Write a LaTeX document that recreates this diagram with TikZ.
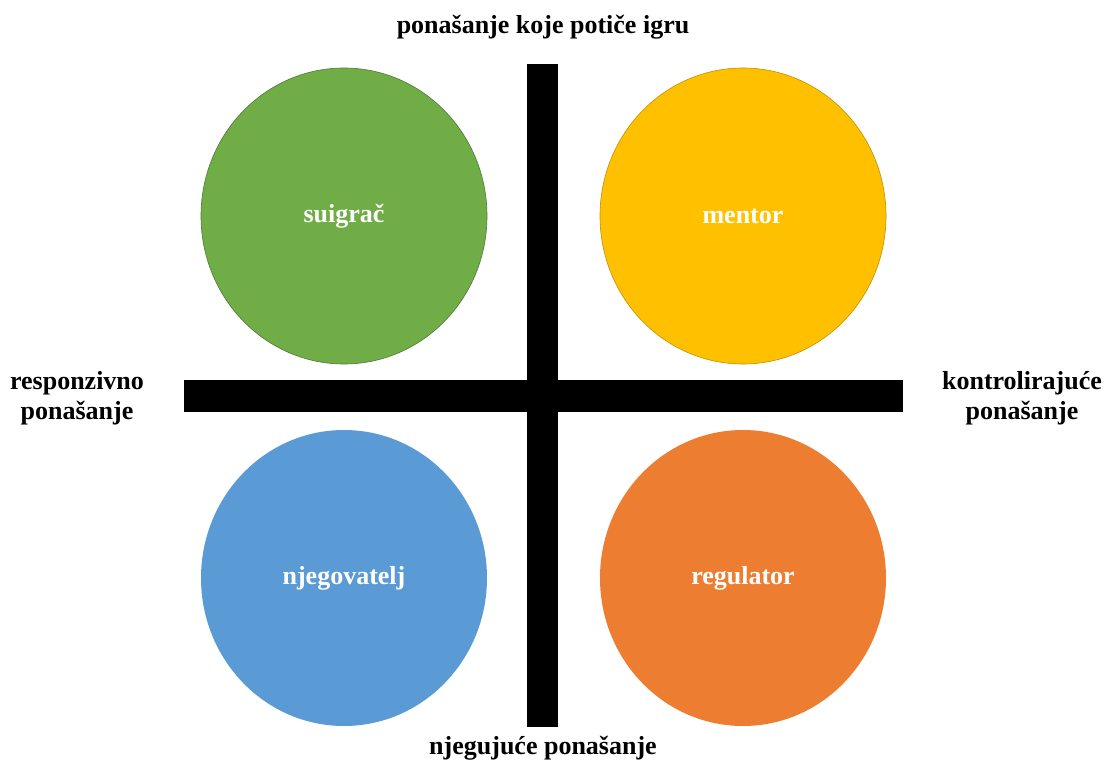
\documentclass[tikz,border=0pt]{standalone}
\usepackage{fontspec}
\setmainfont{Liberation Serif}
\usetikzlibrary{shapes.geometric, positioning}

\definecolor{rolegreen}{HTML}{70AD47}
\definecolor{roleyellow}{HTML}{FFC000}
\definecolor{roleblue}{HTML}{5B9BD5}
\definecolor{roleorange}{HTML}{ED7D31}

\begin{document}
\begin{tikzpicture}[
    x=1pt, y=-1pt,
    role/.style={ellipse, minimum width=286pt, minimum height=296pt, inner sep=0pt,
        text=white, font=\fontsize{26}{30}\selectfont\bfseries},
    axislabel/.style={align=center, inner sep=0pt, font=\fontsize{26}{30}\selectfont\bfseries},
    bar/.style={fill=black}
    ]
\useasboundingbox (0,0) rectangle (1104,762);

% Axes
\fill[bar] (527,64) rectangle (558,727);
\fill[bar] (184,380) rectangle (903,412);

% Roles
\node[role, fill=rolegreen, draw=rolegreen!70!black, line width=0.6pt] (suigrac) at (344,216) {suigrač};
\node[role, fill=roleyellow, draw=roleyellow!75!black, line width=0.6pt] (mentor) at (743,216) {mentor};
\node[role, fill=roleblue] (njegovatelj) at (344,578) {njegovatelj};
\node[role, fill=roleorange] (regulator) at (743,578) {regulator};

% Axis labels
\node[axislabel] (top) at (543,27) {ponašanje koje potiče igru};
\node[axislabel] (bottom) at (543,748) {njegujuće ponašanje};
\node[axislabel] (left) at (77,398) {responzivno\\ponašanje};
\node[axislabel] (right) at (1022,398) {kontrolirajuće\\ponašanje};

\end{tikzpicture}
\end{document}
